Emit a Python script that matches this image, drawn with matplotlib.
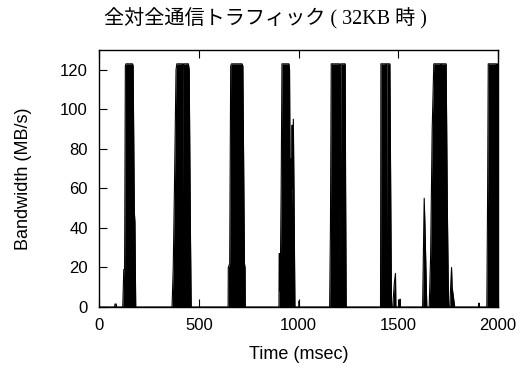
import matplotlib.pyplot as plt

# ---- data (envelope of each traffic burst) ----
time_ms = [
    0, 78, 80, 86, 88,                                   # tiny blip
    119, 124, 128, 129, 132, 135, 168, 171, 177, 180, 182, 184,   # burst 1
    366, 372, 378, 386, 390, 418, 420, 423, 448, 452, 458, 462,  # burst 2
    647, 648, 655, 660, 664, 717, 721, 729, 732, 733,            # burst 3
    902, 903, 906, 908, 913, 917, 952, 955, 958, 962, 965, 968, 970, 974, 977, 982,
    1002, 1003, 1005,                                    # burst 4
    1156, 1160, 1164, 1206, 1209, 1212, 1234, 1236, 1239,  # burst 5
    1411, 1413, 1439, 1441, 1443, 1458, 1462, 1466,
    1472, 1480, 1486, 1488, 1508, 1509, 1510,            # burst 6
    1622, 1630, 1634, 1643, 1655, 1662, 1670, 1678, 1713, 1715, 1717,
    1740, 1746, 1752, 1758, 1767, 1770, 1783,            # burst 7
    1903, 1905, 1907,
    1944, 1946, 1948, 1951, 1992, 1995, 1998, 2000,      # burst 8
]
bw_mbs = [
    0, 0, 1.5, 1.5, 0,
    0, 19, 19, 40, 122, 123, 123, 122, 48, 43, 20, 0,
    0, 20, 60, 120, 123, 123, 55, 123, 123, 120, 40, 0,
    0, 20, 22, 122, 123, 123, 122, 22, 20, 0,
    0, 27, 27, 8, 60, 123, 123, 120, 60, 75, 50, 92, 60, 95, 62, 0,
    0, 3, 0,
    0, 40, 123, 123, 15, 123, 123, 60, 0,
    0, 123, 123, 33, 123, 123, 60, 0,
    0, 12, 17, 0, 0, 4, 0,
    0, 55, 40, 0, 0, 25, 90, 123, 123, 92, 123,
    123, 50, 0, 0, 20, 10, 0,
    0, 2, 0,
    0, 30, 60, 123, 123, 100, 123, 0,
]

fig = plt.figure(figsize=(5.27, 3.66), dpi=100)
ax = fig.add_axes([0.1879, 0.1612, 0.7571, 0.7022])

ax.fill_between(time_ms, bw_mbs, color="black", lw=0)
ax.plot(time_ms, bw_mbs, color="black", lw=0.8)

ax.set_xlim(0, 2000)
ax.set_ylim(0, 130)
ax.set_xticks([0, 500, 1000, 1500, 2000])
ax.set_yticks(range(0, 121, 20))
ax.tick_params(direction="in", top=True, right=True, length=5.5, width=0.8, labelsize=12)
ax.tick_params(axis="x", pad=8)
ax.tick_params(axis="y", pad=8)
for s in ax.spines.values():
    s.set_linewidth(1.0)

for lab in ax.get_xticklabels() + ax.get_yticklabels():
    lab.set_family(["Liberation Sans"])

ax.set_xlabel("Time (msec)", fontsize=13, family=["Liberation Sans"], labelpad=9)
ax.set_ylabel("Bandwidth (MB/s)", fontsize=13, family=["Liberation Sans"], labelpad=20)
fig.text(0.503, 0.950, "全対全通信トラフィック ( 32KB 時 )", ha="center", va="center",
         fontsize=14.5, family=["Liberation Serif", "Noto Sans CJK JP"])

fig.savefig("out.png", dpi=100)
